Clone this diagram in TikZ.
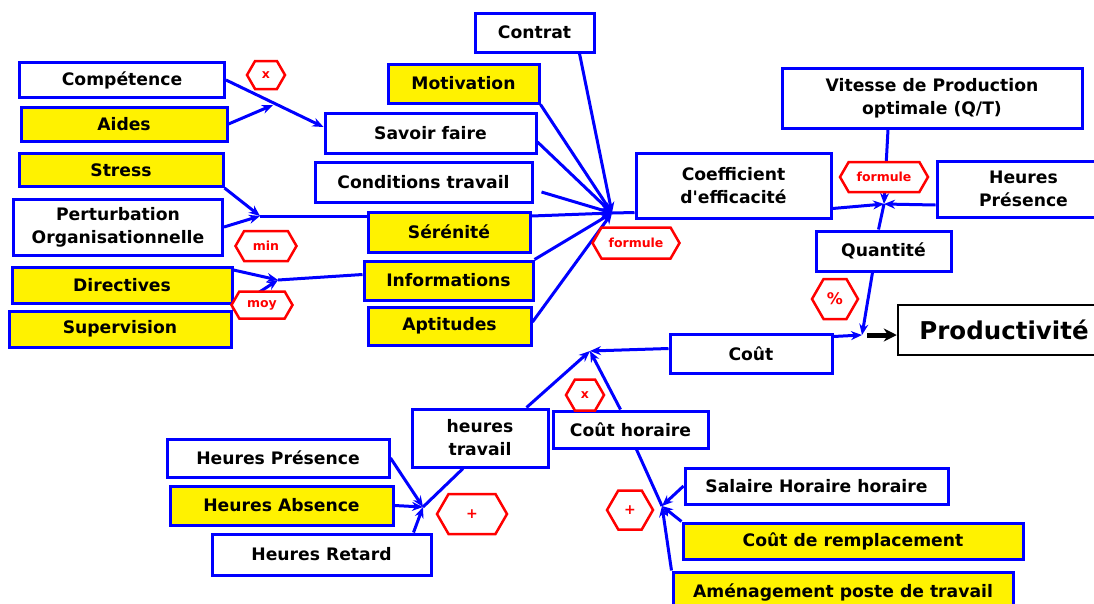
\documentclass[tikz,border=0pt]{standalone}
\usepackage{fontspec}
\setmainfont{DejaVu Sans}[Ligatures=TeXOff]
\usetikzlibrary{arrows.meta,shapes.symbols}

\begin{document}
\begin{tikzpicture}[x=1pt, y=-1pt,
    font=\bfseries\fontsize{17.2}{23}\selectfont,
    box/.style={draw=blue, line width=3pt, fill=white, align=center, inner sep=2pt},
    ybox/.style={box, fill=yellow},
    op/.style={signal, signal to=west and east, signal pointer angle=120,
      draw=red, line width=2.5pt, fill=white, text=red, inner sep=1pt,
      font=\bfseries\fontsize{12.5}{14}\selectfont},
    link/.style={blue, line width=3pt},
    arr/.style={link, -{Stealth[length=11pt,width=9pt]}}]
  \useasboundingbox (0,0) rectangle (1094,603);

  % left column
  \node[box,  minimum width=205, minimum height=35] (comp)   at (122,80)    {Compétence};
  \node[ybox, minimum width=206, minimum height=34] (aides)  at (124,124)   {Aides};
  \node[ybox, minimum width=204, minimum height=33] (stress) at (121,170)   {Stress};
  \node[box,  minimum width=209, minimum height=56] (pert)   at (118,227)   {Perturbation\\Organisationnelle};
  \node[ybox, minimum width=220, minimum height=36] (dir)    at (122,285)   {Directives};
  \node[ybox, minimum width=222, minimum height=36] (sup)    at (120,329)   {Supervision};

  % middle column
  \node[box,  minimum width=119, minimum height=39] (contrat) at (534.5,32.5) {Contrat};
  \node[ybox, minimum width=151, minimum height=39] (mot)     at (463.5,83.5) {Motivation};
  \node[box,  minimum width=211, minimum height=40] (savoir)  at (430.5,133)  {Savoir faire};
  \node[box,  minimum width=217, minimum height=40] (cond)    at (423.5,182)  {Conditions travail};
  \node[ybox, minimum width=162, minimum height=40] (ser)     at (449,232)    {Sérénité};
  \node[ybox, minimum width=169, minimum height=39] (info)    at (448.5,280.5){Informations};
  \node[ybox, minimum width=163, minimum height=38] (apt)     at (449.5,326)  {Aptitudes};

  % right side
  \node[box, minimum width=195, minimum height=65] (coef)  at (733.5,185.5) {Coefficient\\d'efficacité};
  \node[box, minimum width=300, minimum height=60] (vit)   at (932,98)      {Vitesse de Production\\optimale (Q/T)};
  \node[box, minimum width=173, minimum height=56] (hpr)   at (1023.5,189)  {Heures\\Présence};
  \node[box, minimum width=135, minimum height=40] (quant) at (883.5,251)   {Quantité};
  \node[box, draw=black, line width=2.5pt, minimum width=212, minimum height=50,
    font=\bfseries\fontsize{24.5}{28}\selectfont] (prod) at (1004,330) {Productivité};
  \node[box, minimum width=162, minimum height=39] (cout)  at (751,353.5)   {Coût};

  % bottom part
  \node[box,  minimum width=136, minimum height=58] (ht)  at (480,438)     {heures\\travail};
  \node[box,  minimum width=155, minimum height=37] (ch)  at (630.5,429.5) {Coût horaire};
  \node[box,  minimum width=222, minimum height=38] (hpl) at (278,458)     {Heures Présence};
  \node[ybox, minimum width=223, minimum height=39] (ha)  at (281.5,505.5) {Heures Absence};
  \node[box,  minimum width=219, minimum height=41] (hr)  at (321.5,554.5) {Heures Retard};
  \node[box,  minimum width=263, minimum height=36] (sal) at (816.5,486)   {Salaire Horaire horaire};
  \node[ybox, minimum width=340, minimum height=36] (cr)  at (853,541)     {Coût de remplacement};
  \node[ybox, minimum width=340, minimum height=40] (am)  at (843,592)     {Aménagement poste de travail};

  % junctions
  \coordinate (jcomp) at (273,105);
  \coordinate (jmin)  at (260,216);
  \coordinate (jmoy)  at (278,280);
  \coordinate (jeff)  at (612,213);
  \coordinate (jq)    at (884,204);
  \coordinate (jprod) at (862,335);
  \coordinate (jcout) at (590,351);
  \coordinate (jht)   at (423,507);
  \coordinate (jch)   at (662,506);

  % links
  \draw[arr] (comp.east) -- ([yshift=6pt]savoir.west);
  \draw[arr] (aides.east) -- (jcomp);
  \draw[arr] (stress.south east) -- (jmin);
  \draw[arr] (pert.east) -- (jmin);
  \draw[link] (jmin) -- (jmin -| ser.west);
  \draw[arr] (jmin -| ser.east) -- (jeff);
  \draw[arr] ([yshift=15pt]dir.east) -- (jmoy);
  \draw[arr] (sup.north east) -- (jmoy);
  \draw[link] (jmoy) -- ([yshift=6pt]info.west);
  \draw[arr] (info.north east) -- (jeff);
  \draw[arr] ([yshift=4pt]apt.east) -- (jeff);
  \draw[arr] ([xshift=8pt,yshift=-10pt]cond.east) -- (jeff);
  \draw[arr] ([yshift=-9pt]savoir.east) -- (jeff);
  \draw[arr] (mot.south east) -- (jeff);
  \draw[arr] ([xshift=-16pt]contrat.south east) -- (jeff);
  \draw[link] (jeff) -- ([yshift=7pt]coef.south west);

  \draw[arr] ([yshift=11pt]coef.south east) -- (jq);
  \draw[arr] ([yshift=-16pt]hpr.west) -- (jq);
  \draw[arr] ([xshift=-44pt]vit.south) -- (jq);
  \draw[link] (jq) -- ([xshift=-5pt]quant.north);
  \draw[arr] ([xshift=-11pt]quant.south) -- (jprod);
  \draw[arr] ([yshift=-4pt]cout.north east) -- (jprod);
  \draw[line width=5pt, -{Stealth[length=13pt,width=13pt]}] ([xshift=5pt]jprod) -- ([yshift=-5pt]prod.west);

  \draw[arr] ([yshift=5pt]cout.west) -- (jcout);
  \draw[arr] ([xshift=-23pt]ht.north east) -- (jcout);
  \draw[arr] ([xshift=-10pt]ch.north) -- (jcout);
  \draw[link] (jht) -- ([xshift=-17pt]ht.south);
  \draw[arr] (hpl.east) -- (jht);
  \draw[arr] (ha.east) -- (jht);
  \draw[arr] ([xshift=-19pt]hr.north east) -- (jht);
  \draw[link] (jch) -- ([xshift=6pt]ch.south);
  \draw[arr] (sal.west) -- (jch);
  \draw[arr] (cr.north west) -- (jch);
  \draw[arr] (am.north west) -- (jch);

  % operators
  \node[op, minimum width=38, minimum height=28] (opx)     at (266,75)  {x};
  \node[op, minimum width=61, minimum height=30] (opmin)   at (266,246) {min};
  \node[op, minimum width=61, minimum height=27] (opmoy)   at (262,305) {moy};
  \node[op, minimum width=87, minimum height=31] (opform)  at (636,243) {formule};
  \node[op, minimum width=88, minimum height=30] (opformq) at (884,177) {formule};
  \node[op, minimum width=46, minimum height=40,
    font=\bfseries\fontsize{16}{18}\selectfont] (oppct) at (835,299) {\%};
  \node[op, minimum width=38, minimum height=31] (opxc)    at (585,395) {x};
  \node[op, minimum width=70, minimum height=40,
    font=\bfseries\fontsize{14}{16}\selectfont] (opplus)  at (472,514) {+};
  \node[op, minimum width=46, minimum height=39,
    font=\bfseries\fontsize{14}{16}\selectfont] (opplusc) at (630,510) {+};
\end{tikzpicture}
\end{document}
